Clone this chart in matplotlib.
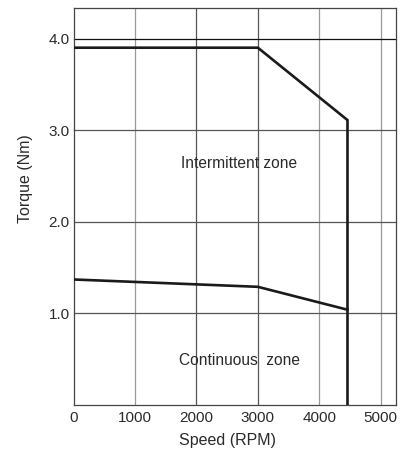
import matplotlib
matplotlib.use("Agg")
import matplotlib.pyplot as plt

plt.rcParams['font.family'] = ['Liberation Sans', 'DejaVu Sans']

# torque-speed curves
speed_int = [0, 3000, 4460, 4460]
torque_int = [3.9, 3.9, 3.11, 0.0]
speed_cont = [0, 3000, 4460]
torque_cont = [1.37, 1.29, 1.04]

xticks = [0, 1000, 2000, 3000, 4000, 5000]
yticks = [1.0, 2.0, 3.0, 4.0]
ytick_labels = ["1.0", "2.0", "3.0", "4.0"]

fig = plt.figure(figsize=(4.04, 4.51), dpi=100)
ax = fig.add_axes([0.1824, 0.1020, 0.7970, 0.8796])

ax.set_xlim(0, 5245)
ax.set_ylim(0, 4.33)

# grid
vcolors = ['#999999', '#999999', '#555555', '#555555', '#999999', '#999999']
for x, c in zip(xticks[1:], vcolors[1:]):
    ax.axvline(x, color=c, lw=0.9, zorder=1)
for y in yticks:
    c = '#111111' if y == 4.0 else '#555555'
    ax.axhline(y, color=c, lw=0.9, zorder=1, clip_on=False)

ax.plot(speed_int, torque_int, color='#1a1a1a', lw=1.9, zorder=3,
        solid_joinstyle='miter')
ax.plot(speed_cont, torque_cont, color='#1a1a1a', lw=1.9, zorder=3,
        solid_joinstyle='miter')

ax.text(2700, 2.64, "Intermittent zone", ha='center', va='center', fontsize=11.2, color='#2a2a2a')
ax.text(2700, 0.49, "Continuous  zone", ha='center', va='center', fontsize=11.2, color='#2a2a2a')

ax.set_xticks(xticks)
ax.set_yticks(yticks)
ax.set_yticklabels(ytick_labels)
ax.tick_params(axis='y', length=0, pad=3, labelsize=11, colors='#2a2a2a')
ax.tick_params(axis='x', length=0, pad=4, labelsize=11, colors='#2a2a2a')

for s in ax.spines.values():
    s.set_color('#444444')
    s.set_linewidth(0.9)

ax.set_xlabel("Speed (RPM)", fontsize=11.5, color='#2a2a2a')
ax.set_ylabel("Torque (Nm)", fontsize=11.5, color='#2a2a2a')
ax.xaxis.set_label_coords(0.479, -0.071)
ax.yaxis.set_label_coords(-0.126, 0.57)

fig.savefig("out.png", dpi=100)
